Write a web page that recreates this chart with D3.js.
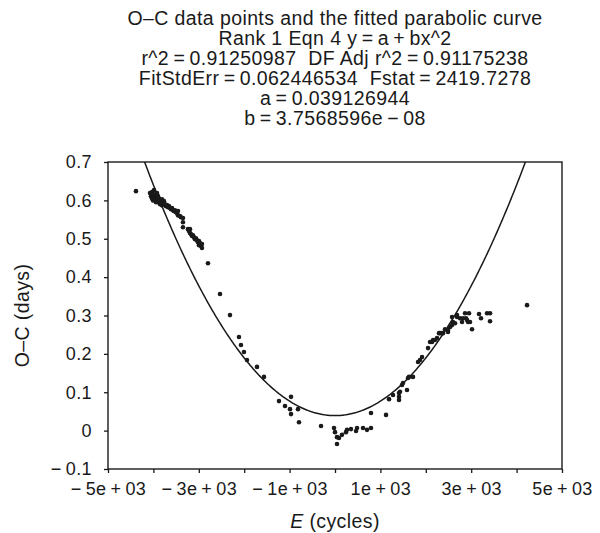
<!DOCTYPE html>
<html>
<head>
<meta charset="utf-8">
<script src="https://cdn.jsdelivr.net/npm/d3@7"></script>
<style>
  body { margin: 0; background: #fff; }
  svg { display: block; font-family: "Liberation Sans", Arial, sans-serif; }
</style>
</head>
<body>
<div id="chart"></div>
<script>
// O-C values, E in cycles, O-C in days
var cycles = [
  -4384,
  -4075, -4053, -4031, -4031, -4009, -4009, -3987, -3987, -3965, -3965,
  -3943, -3943, -3921, -3921, -3899, -3899, -3877, -3877, -3855, -3855,
  -3833, -3811, -3811, -3789, -3767,
  -3745, -3723, -3701, -3679, -3657, -3635, -3613, -3591, -3569, -3547,
  -3525, -3503, -3481, -3459, -3459, -3415, -3393, -3349, -3349, -3349,
  -3238, -3216, -3194, -3194, -3172, -3150, -3128, -3106, -3084, -3062,
  -3040, -3018, -2996, -2996, -2974, -2952, -2930, -2930,
  -2798, -2533, -2313, -2115, -2071, -2005, -1939, -1718, -1564,
  -1234, -1101, -969, -991, -969, -815, -793, -308,
  -22, 0, 44, 88, 44, 154, 242, 264, 352, 463, 485, 617, 705, 793, 793,
  1124, 1190, 1278, 1410, 1410, 1410, 1432, 1476, 1498, 1586, 1608, 1630, 1718,
  1829, 1873, 1917, 2049, 2093, 2137, 2159, 2203, 2247, 2291, 2313, 2357, 2379,
  2423, 2489, 2489, 2534, 2578, 2578, 2600, 2644, 2688, 2688, 2754, 2798, 2820,
  2864, 2952, 2886, 2908, 2930, 2974, 3018, 3172, 3216, 3349, 3415, 3415,
  4230
];
var ocDays = [
  0.624,
  0.619, 0.611, 0.622, 0.605, 0.613, 0.600, 0.627, 0.608, 0.616, 0.603,
  0.611, 0.595, 0.605, 0.619, 0.600, 0.611, 0.595, 0.605, 0.600, 0.590,
  0.595, 0.603, 0.587, 0.593, 0.598,
  0.590, 0.585, 0.588, 0.582, 0.585, 0.580, 0.577, 0.580, 0.574, 0.572,
  0.574, 0.569, 0.567, 0.572, 0.561, 0.559, 0.556, 0.554, 0.543, 0.530,
  0.525, 0.520, 0.515, 0.525, 0.512, 0.507, 0.509, 0.504, 0.499, 0.501,
  0.496, 0.491, 0.494, 0.483, 0.489, 0.481, 0.486, 0.476,
  0.436, 0.356, 0.301, 0.244, 0.223, 0.205, 0.184, 0.166, 0.140,
  0.077, 0.064, 0.088, 0.056, 0.043, 0.056, 0.022, 0.012,
  0.007, -0.004, -0.017, -0.019, -0.035, -0.011, -0.004, 0.002, 0.004, -0.001, 0.007, 0.007, 0.002, 0.007, 0.046,
  0.041, 0.082, 0.093, 0.098, 0.088, 0.080, 0.101, 0.119, 0.124, 0.106, 0.137, 0.140, 0.140,
  0.179, 0.184, 0.192, 0.215, 0.231, 0.231, 0.236, 0.236, 0.241, 0.254, 0.254, 0.254, 0.254,
  0.264, 0.262, 0.257, 0.270, 0.275, 0.296, 0.283, 0.280, 0.296, 0.301, 0.293, 0.283, 0.293,
  0.306, 0.306, 0.293, 0.288, 0.283, 0.283, 0.264, 0.304, 0.293, 0.306, 0.306, 0.285,
  0.327
];

// fitted parabola y = a + b x^2
var fitA = 0.039126944,
    fitB = 3.7568596e-08;

// \u2009 = thin space, the original sets = + and minus with a little room
var titleLines = [
  "O\u2013C data points and the fitted parabolic curve",
  "Rank 1 Eqn 4 y\u2009=\u2009a\u2009+\u2009bx^2",
  "r^2\u2009=\u20090.91250987  DF Adj r^2\u2009=\u20090.91175238",
  "FitStdErr\u2009=\u20090.062446534  Fstat\u2009=\u20092419.7278",
  "a\u2009=\u20090.039126944",
  "b\u2009=\u20093.7568596e\u2009\u2212\u200908"
];

var xTicks = [-5000, -4000, -3000, -2000, -1000, 0, 1000, 2000, 3000, 4000, 5000];
var xTickLabels = ["\u2212\u20095e\u2009+\u200903", "", "\u2212\u20093e\u2009+\u200903", "", "\u2212\u20091e\u2009+\u200903", "",
                   "1e\u2009+\u200903", "", "3e\u2009+\u200903", "", "5e\u2009+\u200903"];
var yTicks = [-0.1, 0, 0.1, 0.2, 0.3, 0.4, 0.5, 0.6, 0.7];
var yTickLabels = ["\u2212\u20090.1", "0", "0.1", "0.2", "0.3", "0.4", "0.5", "0.6", "0.7"];

var width = 600,
    height = 533,
    margin = {top: 162, right: 38, bottom: 64, left: 108};

var innerW = width - margin.left - margin.right,
    innerH = height - margin.top - margin.bottom;

var ink = "#1a1a1a";

var svg = d3.select("#chart").append("svg")
    .attr("width", width)
    .attr("height", height);

var xScale = d3.scaleLinear().domain([-5000, 5000]).range([0, innerW]),
    yScale = d3.scaleLinear().domain([-0.1, 0.7]).range([innerH, 0]);

//title block
svg.append("g").selectAll("text")
    .data(titleLines)
    .enter().append("text")
    .attr("x", margin.left + innerW / 2)
    .attr("y", function(d, i) { return 25 + i * 20; })
    .attr("text-anchor", "middle")
    .style("font-size", "19.5px")
    .style("letter-spacing", "0.4px")
    .style("white-space", "pre")
    .style("fill", ink)
    .text(function(d) { return d; });

var g = svg.append("g")
    .attr("transform", "translate(" + margin.left + "," + margin.top + ")");

g.append("clipPath").attr("id", "plotclip")
  .append("rect").attr("width", innerW).attr("height", innerH);

var xAxis = d3.axisBottom(xScale)
    .tickValues(xTicks)
    .tickSize(4)
    .tickFormat(function(d, i) { return xTickLabels[i]; });

var yAxis = d3.axisLeft(yScale)
    .tickValues(yTicks)
    .tickSize(4)
    .tickFormat(function(d, i) { return yTickLabels[i]; });

var gx = g.append("g")
    .attr("transform", "translate(0," + innerH + ")")
    .call(xAxis);

var gy = g.append("g").call(yAxis);

[gx, gy].forEach(function(ax) {
  ax.select(".domain").remove();
  ax.selectAll("line").attr("stroke", ink).attr("stroke-width", 1.3);
  ax.selectAll("text")
    .style("font-size", "18px")
    .style("letter-spacing", "0.4px")
    .style("font-family", "'Liberation Sans', Arial, sans-serif")
    .style("fill", ink);
});
gx.selectAll("text").attr("dy", "1.05em");
gy.selectAll("text").attr("x", -16);

//frame
g.append("rect")
    .attr("width", innerW)
    .attr("height", innerH)
    .attr("fill", "none")
    .attr("stroke", ink)
    .attr("stroke-width", 1.4);

//fitted curve
var curvePts = d3.range(-5000, 5001, 25).map(function(x) {
  return [x, fitA + fitB * x * x];
});
var line = d3.line()
    .x(function(d) { return xScale(d[0]); })
    .y(function(d) { return yScale(d[1]); });

g.append("path")
    .datum(curvePts)
    .attr("clip-path", "url(#plotclip)")
    .attr("fill", "none")
    .attr("stroke", ink)
    .attr("stroke-width", 1.5)
    .attr("d", line);

//data points
g.append("g").selectAll("circle")
    .data(cycles.map(function(c, i) { return [c, ocDays[i]]; }))
    .enter().append("circle")
    .attr("cx", function(d) { return xScale(d[0]); })
    .attr("cy", function(d) { return yScale(d[1]); })
    .attr("r", 2.3)
    .attr("fill", ink);

//axis titles
var xl = svg.append("text")
    .attr("x", margin.left + innerW / 2)
    .attr("y", 528)
    .attr("text-anchor", "middle")
    .style("font-size", "19.5px")
    .style("letter-spacing", "0.4px")
    .style("fill", ink);
xl.append("tspan").style("font-style", "italic").text("E");
xl.append("tspan").text(" (cycles)");

svg.append("text")
    .attr("transform", "translate(29," + (margin.top + innerH / 2) + ") rotate(-90)")
    .attr("text-anchor", "middle")
    .style("font-size", "19.5px")
    .style("letter-spacing", "0.4px")
    .style("fill", ink)
    .text("O\u2013C (days)");
</script>
</body>
</html>
